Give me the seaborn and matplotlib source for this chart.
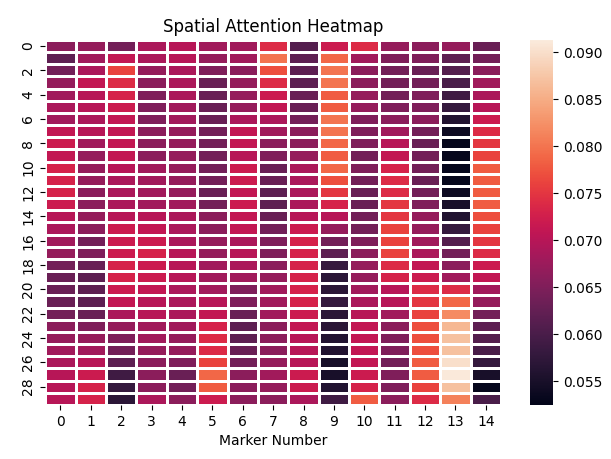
import matplotlib
matplotlib.use("Agg")
import matplotlib.pyplot as plt
import seaborn as sns
import pandas as pd

# attention weight per frame (rows 0-29) for each marker (columns 0-14)
marker_0 = [0.066, 0.062, 0.064, 0.067, 0.068, 0.069, 0.068, 0.071, 0.072, 0.071,
            0.073, 0.073, 0.073, 0.072, 0.070, 0.069, 0.068, 0.067, 0.064, 0.063,
            0.063, 0.063, 0.064, 0.066, 0.067, 0.068, 0.069, 0.070, 0.070, 0.070]
marker_1 = [0.067, 0.068, 0.069, 0.071, 0.070, 0.070, 0.069, 0.070, 0.068, 0.067,
            0.067, 0.067, 0.066, 0.066, 0.067, 0.066, 0.064, 0.065, 0.063, 0.062,
            0.062, 0.062, 0.063, 0.065, 0.067, 0.068, 0.070, 0.072, 0.073, 0.073]
marker_2 = [0.064, 0.071, 0.076, 0.074, 0.073, 0.072, 0.071, 0.071, 0.071, 0.071,
            0.070, 0.069, 0.069, 0.069, 0.070, 0.072, 0.072, 0.072, 0.073, 0.073,
            0.072, 0.071, 0.069, 0.067, 0.065, 0.064, 0.062, 0.059, 0.058, 0.057]
marker_3 = [0.069, 0.069, 0.067, 0.066, 0.065, 0.065, 0.065, 0.066, 0.066, 0.066,
            0.068, 0.068, 0.068, 0.068, 0.070, 0.071, 0.072, 0.073, 0.072, 0.072,
            0.071, 0.070, 0.070, 0.068, 0.068, 0.067, 0.066, 0.066, 0.066, 0.069]
marker_4 = [0.070, 0.070, 0.069, 0.069, 0.069, 0.068, 0.068, 0.067, 0.067, 0.067,
            0.067, 0.067, 0.067, 0.068, 0.069, 0.069, 0.069, 0.070, 0.070, 0.070,
            0.069, 0.069, 0.069, 0.068, 0.067, 0.067, 0.065, 0.063, 0.064, 0.066]
marker_5 = [0.068, 0.067, 0.065, 0.063, 0.063, 0.063, 0.063, 0.064, 0.064, 0.064,
            0.064, 0.064, 0.063, 0.064, 0.066, 0.066, 0.067, 0.067, 0.068, 0.068,
            0.068, 0.070, 0.071, 0.073, 0.074, 0.074, 0.076, 0.079, 0.078, 0.072]
marker_6 = [0.068, 0.068, 0.066, 0.067, 0.067, 0.067, 0.069, 0.071, 0.071, 0.070,
            0.072, 0.072, 0.071, 0.072, 0.071, 0.071, 0.069, 0.070, 0.069, 0.068,
            0.065, 0.065, 0.063, 0.062, 0.062, 0.063, 0.064, 0.066, 0.066, 0.066]
marker_7 = [0.074, 0.080, 0.077, 0.074, 0.072, 0.071, 0.069, 0.068, 0.066, 0.065,
            0.063, 0.063, 0.062, 0.062, 0.063, 0.064, 0.065, 0.065, 0.066, 0.067,
            0.068, 0.068, 0.068, 0.066, 0.066, 0.066, 0.067, 0.068, 0.067, 0.066]
marker_8 = [0.061, 0.062, 0.062, 0.062, 0.063, 0.063, 0.064, 0.066, 0.066, 0.067,
            0.069, 0.069, 0.069, 0.069, 0.070, 0.072, 0.073, 0.073, 0.073, 0.073,
            0.073, 0.073, 0.072, 0.071, 0.070, 0.070, 0.070, 0.072, 0.072, 0.069]
marker_9 = [0.072, 0.079, 0.080, 0.080, 0.078, 0.078, 0.080, 0.080, 0.079, 0.078,
            0.079, 0.077, 0.075, 0.073, 0.070, 0.067, 0.064, 0.062, 0.058, 0.057,
            0.057, 0.058, 0.057, 0.057, 0.056, 0.056, 0.055, 0.055, 0.056, 0.059]
marker_10 = [0.074, 0.068, 0.066, 0.066, 0.067, 0.067, 0.065, 0.065, 0.065, 0.064,
             0.065, 0.064, 0.063, 0.063, 0.064, 0.064, 0.065, 0.066, 0.067, 0.067,
             0.068, 0.069, 0.070, 0.071, 0.071, 0.071, 0.071, 0.072, 0.073, 0.078]
marker_11 = [0.067, 0.065, 0.064, 0.064, 0.064, 0.065, 0.066, 0.068, 0.070, 0.071,
             0.073, 0.074, 0.074, 0.075, 0.075, 0.076, 0.076, 0.076, 0.074, 0.073,
             0.070, 0.070, 0.068, 0.066, 0.065, 0.065, 0.064, 0.065, 0.065, 0.066]
marker_12 = [0.066, 0.065, 0.063, 0.064, 0.065, 0.065, 0.066, 0.064, 0.063, 0.064,
             0.064, 0.063, 0.064, 0.065, 0.067, 0.067, 0.068, 0.069, 0.071, 0.072,
             0.074, 0.075, 0.076, 0.077, 0.077, 0.077, 0.078, 0.078, 0.076, 0.074]
marker_13 = [0.067, 0.062, 0.061, 0.060, 0.059, 0.058, 0.056, 0.054, 0.053, 0.053,
             0.053, 0.053, 0.054, 0.055, 0.056, 0.058, 0.061, 0.064, 0.066, 0.068,
             0.074, 0.079, 0.082, 0.086, 0.087, 0.087, 0.090, 0.091, 0.087, 0.081]
marker_14 = [0.063, 0.064, 0.066, 0.068, 0.069, 0.070, 0.072, 0.074, 0.075, 0.076,
             0.078, 0.078, 0.078, 0.078, 0.077, 0.076, 0.075, 0.074, 0.072, 0.071,
             0.068, 0.067, 0.064, 0.062, 0.061, 0.060, 0.058, 0.055, 0.053, 0.060]

markers = [marker_0, marker_1, marker_2, marker_3, marker_4, marker_5, marker_6,
           marker_7, marker_8, marker_9, marker_10, marker_11, marker_12,
           marker_13, marker_14]

df = pd.DataFrame({i: m for i, m in enumerate(markers)})

fig = plt.figure(figsize=(6.11, 4.59), dpi=100)
ax = fig.add_axes([0.074, 0.118, 0.746, 0.795])
cbar_ax = fig.add_axes([0.867, 0.118, 0.038, 0.795])

sns.heatmap(df, ax=ax, cbar_ax=cbar_ax, linewidths=1, linecolor='white',
            vmin=0.0525, vmax=0.0913)
ax.set_title('Spatial Attention Heatmap', fontsize=12)
ax.set_xlabel('Marker Number')

fig.savefig('out.png', dpi=100)
